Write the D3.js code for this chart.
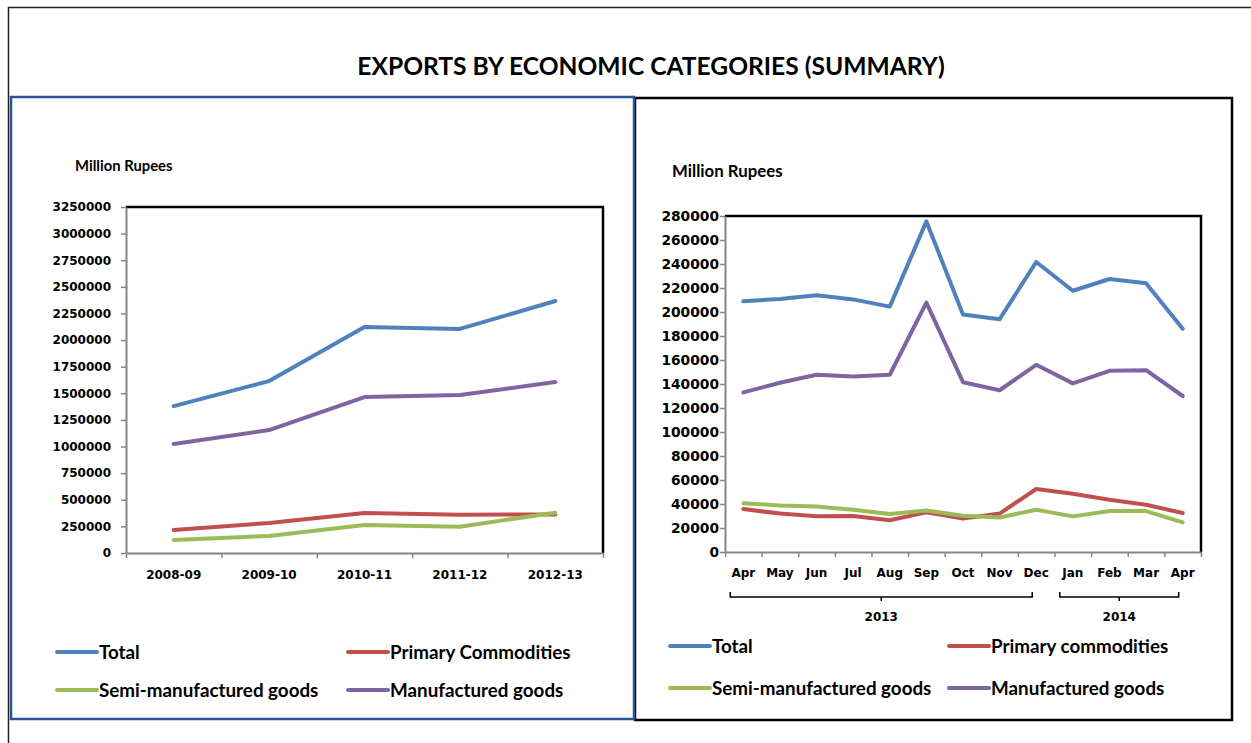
<!DOCTYPE html>
<html>
<head>
<meta charset="utf-8">
<script src="https://cdn.jsdelivr.net/npm/d3@7"></script>
<style>
  body { margin: 0; background: #fff; }
  svg { display: block; }
</style>
</head>
<body>
<svg id="chart" width="1251" height="743"></svg>
<script>
// ---- Data: annual (left panel) ----
const annualYears = ["2008-09", "2009-10", "2010-11", "2011-12", "2012-13"];
const annualTotal = [1380000, 1615000, 2123000, 2105000, 2367000];
const annualPrimary = [216000, 282000, 376000, 360000, 362000];
const annualSemi = [122000, 160000, 263000, 247000, 379000];
const annualManufactured = [1024000, 1155000, 1465000, 1484000, 1606000];
const annualTicks = d3.range(0, 3250001, 250000);

// ---- Data: monthly (right panel) ----
const months = ["Apr", "May", "Jun", "Jul", "Aug", "Sep", "Oct", "Nov", "Dec", "Jan", "Feb", "Mar", "Apr"];
const monthYears = [
  { label: "2013", from: 0, to: 8 },
  { label: "2014", from: 9, to: 12 }
];
const monthlyTotal = [209000, 210800, 214000, 210500, 204500, 275500, 198000, 194000, 241700, 217700, 227500, 223900, 186000];
const monthlyPrimary = [35800, 32000, 29700, 30000, 26500, 33000, 27800, 32000, 52500, 48600, 43600, 39400, 32500];
const monthlySemi = [40700, 38800, 38000, 35200, 31600, 34600, 30200, 28800, 35200, 29700, 34100, 34100, 24700];
const monthlyManufactured = [133000, 141000, 147700, 146300, 147700, 207800, 141500, 134800, 156000, 140500, 151000, 151500, 130000];
const monthlyTicks = d3.range(0, 280001, 20000);

const colors = { total: "#4F81BD", primary: "#C0504D", semi: "#9BBB59", manuf: "#8064A2" };

const tickFont = "'DejaVu Sans', Verdana, sans-serif";
const textFont = "Lato, Calibri, sans-serif";

const svg = d3.select("#chart");
svg.append("rect").attr("width", 1251).attr("height", 743).attr("fill", "#fff");

// page frame
svg.append("path")
  .attr("d", "M8.5,743 V7.5 H1251")
  .attr("fill", "none")
  .attr("stroke", "#222")
  .attr("stroke-width", 1.5);

// title
svg.append("text")
  .attr("x", 651)
  .attr("y", 75)
  .attr("text-anchor", "middle")
  .style("font-family", textFont)
  .style("font-weight", "bold")
  .style("font-size", "24.6px")
  .text("EXPORTS BY ECONOMIC CATEGORIES (SUMMARY)");

// panel borders (right first, left blue on top)
svg.append("rect")
  .attr("x", 635).attr("y", 98).attr("width", 597).attr("height", 622)
  .attr("fill", "none").attr("stroke", "#000").attr("stroke-width", 2.5);
svg.append("rect")
  .attr("x", 11).attr("y", 97).attr("width", 623).attr("height", 622)
  .attr("fill", "none").attr("stroke", "#2A5590").attr("stroke-width", 2.5);

function drawPanel(o) {
  let g = svg.append("g");

  let x = d3.scaleBand()
    .domain(o.cats.map((_, i) => i))
    .range([o.left, o.right]);

  let y = d3.scaleLinear()
    .domain([0, o.ticks[o.ticks.length - 1]])
    .range([o.bottom, o.top]);

  // unit label
  g.append("text")
    .attr("x", o.unitX)
    .attr("y", o.unitY)
    .style("font-family", textFont)
    .style("font-weight", "bold")
    .style("font-size", o.unitSize + "px")
    .text("Million Rupees");

  // plot frame top + right
  g.append("path")
    .attr("d", `M${o.left},${o.top} H${o.right} V${o.bottom}`)
    .attr("fill", "none")
    .attr("stroke", "#000")
    .attr("stroke-width", 2.5);

  // y axis
  let yAxis = g.append("g")
    .attr("transform", `translate(${o.left},0)`)
    .call(d3.axisLeft(y)
      .tickValues(o.ticks)
      .tickFormat(d3.format("d"))
      .tickSize(5)
      .tickPadding(o.yPad)
      .tickSizeOuter(0));
  yAxis.selectAll("text")
    .style("font-family", tickFont)
    .style("font-weight", "bold")
    .style("font-size", o.yFontSize + "px")
    .attr("fill", "#000");

  // x axis: boundary ticks
  let xEdge = d3.scaleLinear().domain([0, o.cats.length]).range([o.left, o.right]);
  let xAxis = g.append("g")
    .attr("transform", `translate(0,${o.bottom})`)
    .call(d3.axisBottom(xEdge).tickValues(d3.range(o.cats.length + 1)).tickFormat("").tickSize(5).tickSizeOuter(0));

  // x labels
  let xLabels = g.append("g")
    .attr("transform", `translate(0,${o.bottom})`)
    .call(d3.axisBottom(x).tickFormat(i => o.cats[i]).tickSize(0).tickPadding(o.xPad));
  xLabels.select(".domain").remove();
  xLabels.selectAll("text")
    .style("font-family", tickFont)
    .style("font-weight", "bold")
    .style("font-size", o.xFontSize + "px")
    .attr("fill", "#000");

  [yAxis, xAxis].forEach(a => {
    a.selectAll("path.domain").attr("stroke", "#868686").attr("stroke-width", 2);
    a.selectAll(".tick line").attr("stroke", "#868686").attr("stroke-width", 1.5);
  });

  // lines
  let line = d3.line()
    .x((_, i) => x(i) + x.bandwidth() / 2)
    .y(d => y(d));

  o.series.forEach(s => {
    g.append("path")
      .datum(s.values)
      .attr("d", line)
      .attr("fill", "none")
      .attr("stroke", s.color)
      .attr("stroke-width", 4)
      .attr("stroke-linecap", "round")
      .attr("stroke-linejoin", "round");
  });

  // year brackets
  if (o.groups) {
    o.groups.forEach(gr => {
      let x0 = x(gr.from) + x.bandwidth() / 2 - o.bracketIn[0];
      let x1 = x(gr.to) + x.bandwidth() / 2 - o.bracketIn[1];
      let mid = (x0 + x1) / 2;
      g.append("path")
        .attr("d", `M${x0},${o.bracketY - 5} V${o.bracketY} H${x1} V${o.bracketY - 5} M${mid},${o.bracketY} V${o.bracketY + 4}`)
        .attr("fill", "none")
        .attr("stroke", "#000")
        .attr("stroke-width", 1.5);
      g.append("text")
        .attr("x", mid)
        .attr("y", o.bracketY + 24)
        .attr("text-anchor", "middle")
        .style("font-family", tickFont)
        .style("font-weight", "bold")
        .style("font-size", o.xFontSize + "px")
        .text(gr.label);
    });
  }

  // legend
  o.series.forEach((s, i) => {
    let lx = o.legendX[i % 2];
    let ly = o.legendY[Math.floor(i / 2)];
    g.append("line")
      .attr("x1", lx).attr("x2", lx + 40)
      .attr("y1", ly).attr("y2", ly)
      .attr("stroke", s.color)
      .attr("stroke-width", 4)
      .attr("stroke-linecap", "round");
    g.append("text")
      .attr("x", lx + 42)
      .attr("y", ly)
      .attr("dy", "0.35em")
      .style("font-family", textFont)
      .style("font-weight", "bold")
      .style("font-size", "18.8px")
      .text(s.name);
  });
}

drawPanel({
  cats: annualYears,
  ticks: annualTicks,
  left: 126, right: 603, top: 207, bottom: 553,
  unitX: 75, unitY: 171, unitSize: 14.8,
  yPad: 10, yFontSize: 12,
  xPad: 17, xFontSize: 12,
  legendX: [57, 348], legendY: [652, 690],
  series: [
    { name: "Total", values: annualTotal, color: colors.total },
    { name: "Primary Commodities", values: annualPrimary, color: colors.primary },
    { name: "Semi-manufactured goods", values: annualSemi, color: colors.semi },
    { name: "Manufactured goods", values: annualManufactured, color: colors.manuf }
  ]
});

drawPanel({
  cats: months,
  ticks: monthlyTicks,
  left: 725, right: 1201, top: 216, bottom: 552,
  unitX: 672, unitY: 177, unitSize: 16.8,
  yPad: 1, yFontSize: 13.8,
  xPad: 16, xFontSize: 12,
  groups: monthYears,
  bracketY: 597, bracketIn: [13, 4],
  legendX: [670, 949], legendY: [646, 688],
  series: [
    { name: "Total", values: monthlyTotal, color: colors.total },
    { name: "Primary commodities", values: monthlyPrimary, color: colors.primary },
    { name: "Semi-manufactured goods", values: monthlySemi, color: colors.semi },
    { name: "Manufactured goods", values: monthlyManufactured, color: colors.manuf }
  ]
});
</script>
</body>
</html>
